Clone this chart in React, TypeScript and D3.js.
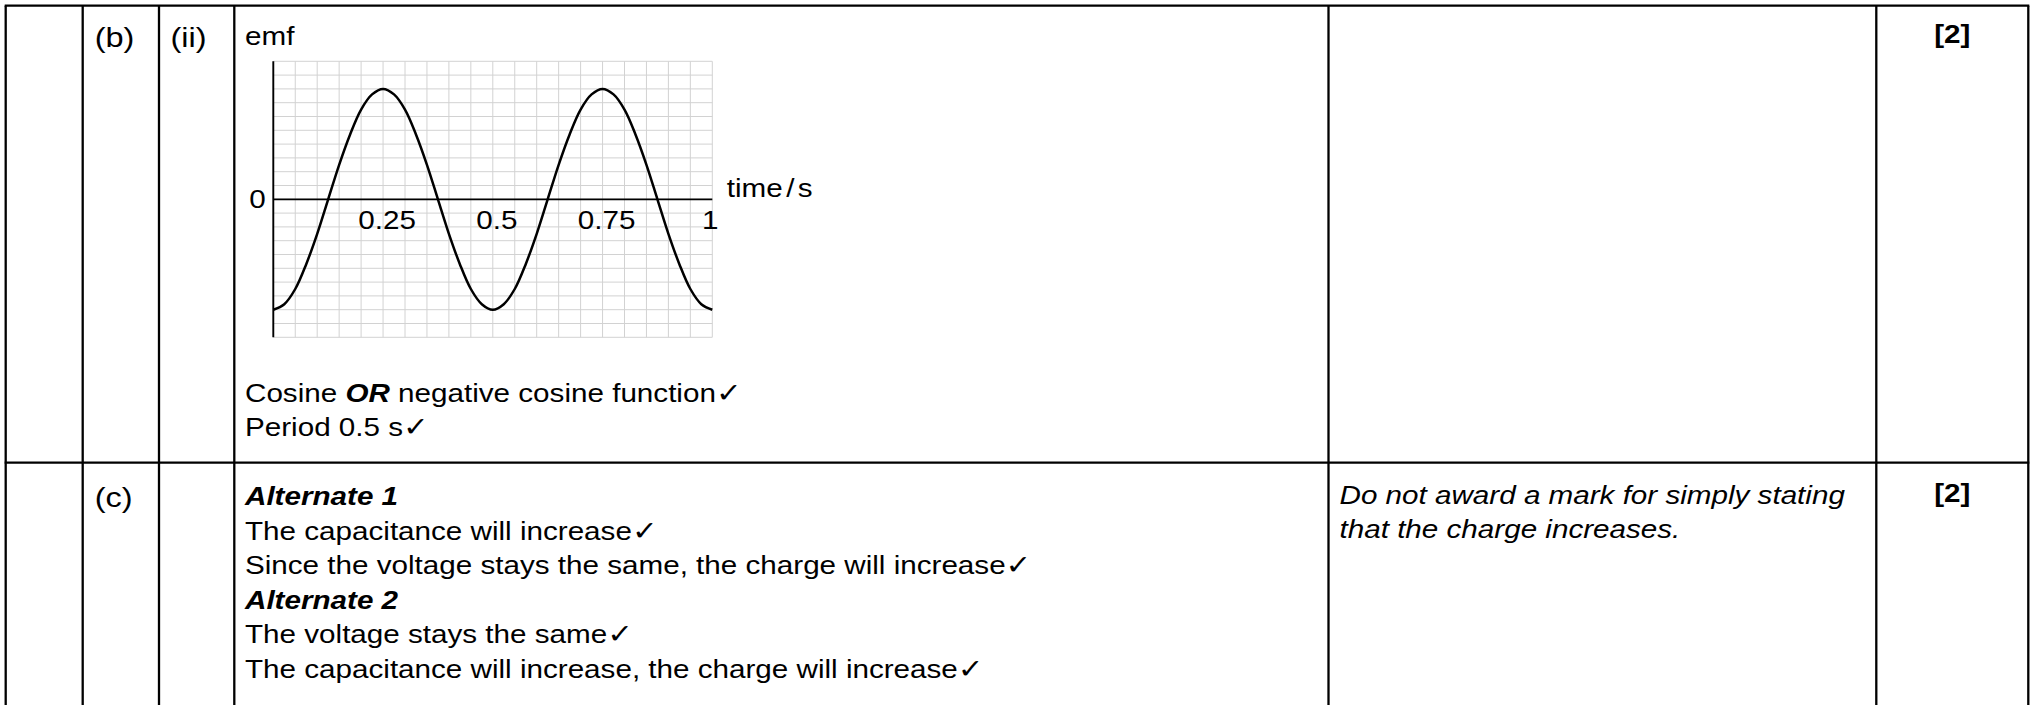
import React, { useEffect } from "react";
import * as d3 from "d3";

// ---- data ----
const TIMES = [
  0, 0.025, 0.05, 0.075, 0.1, 0.125, 0.15, 0.175, 0.2, 0.225,
  0.25, 0.275, 0.3, 0.325, 0.35, 0.375, 0.4, 0.425, 0.45, 0.475,
  0.5, 0.525, 0.55, 0.575, 0.6, 0.625, 0.65, 0.675, 0.7, 0.725,
  0.75, 0.775, 0.8, 0.825, 0.85, 0.875, 0.9, 0.925, 0.95, 0.975, 1,
];
const EMF = [
  -8, -7.6, -6.5, -4.7, -2.5, 0, 2.5, 4.7, 6.5, 7.6,
  8, 7.6, 6.5, 4.7, 2.5, 0, -2.5, -4.7, -6.5, -7.6,
  -8, -7.6, -6.5, -4.7, -2.5, 0, 2.5, 4.7, 6.5, 7.6,
  8, 7.6, 6.5, 4.7, 2.5, 0, -2.5, -4.7, -6.5, -7.6, -8,
];
const X_TICKS = [0.25, 0.5, 0.75, 1];
const X_TICK_LABELS = ["0.25", "0.5", "0.75", "1"];
const Y_LABEL = "emf";
const Y_ZERO_LABEL = "0";
const X_LABEL_PARTS = ["time", "/", "s"];

const ROW_B_LINES = [
  [{ t: "Cosine " }, { t: "OR", bi: true }, { t: " negative cosine function" }, { t: "✓", chk: true }],
  [{ t: "Period 0.5 s" }, { t: "✓", chk: true }],
];
const ROW_C_LINES = [
  [{ t: "Alternate 1", bi: true }],
  [{ t: "The capacitance will increase" }, { t: "✓", chk: true }],
  [{ t: "Since the voltage stays the same, the charge will increase" }, { t: "✓", chk: true }],
  [{ t: "Alternate 2", bi: true }],
  [{ t: "The voltage stays the same" }, { t: "✓", chk: true }],
  [{ t: "The capacitance will increase, the charge will increase" }, { t: "✓", chk: true }],
];
const ROW_C_GUIDANCE = ["Do not award a mark for simply stating", "that the charge increases."];
const MARKS = ["[2]", "[2]"];
const PART_LABELS = ["(b)", "(c)"];
const SUB_LABELS = ["(ii)", ""];

// ---- layout ----
const W = 2031;
const H = 705;
const SX = 1.14;
const FONT = "'Liberation Sans', Arial, sans-serif";
const FS = 26;
const FS_PART = 28.5;
const COLS = [5.7, 82.7, 159, 234.3, 1328.5, 1876.3, 2028.3];
const ROWS = [5.7, 462.7];
const LH = 34.5;

type Seg = { t: string; bi?: boolean; chk?: boolean };

function T(props: {
  x: number;
  y: number;
  anchor?: string;
  bold?: boolean;
  italic?: boolean;
  size?: number;
  children: React.ReactNode;
}) {
  const { x, y, anchor = "start", bold, italic, size = FS, children } = props;
  return (
    <text
      transform={`translate(${x},${y}) scale(${SX},1)`}
      textAnchor={anchor}
      fontFamily={FONT}
      fontSize={size}
      fontWeight={bold ? "bold" : "normal"}
      fontStyle={italic ? "italic" : "normal"}
      fill="#000"
    >
      {children}
    </text>
  );
}

function Line({ x, y, segs, italic }: { x: number; y: number; segs: Seg[]; italic?: boolean }) {
  return (
    <T x={x} y={y} italic={italic}>
      {segs.map((s, i) =>
        s.chk ? (
          <tspan key={i} fontFamily="'DejaVu Sans', sans-serif" fontSize={27} fontStyle="normal">
            {s.t}
          </tspan>
        ) : s.bi ? (
          <tspan key={i} fontWeight="bold" fontStyle="italic">
            {s.t}
          </tspan>
        ) : (
          <tspan key={i}>{s.t}</tspan>
        )
      )}
    </T>
  );
}

export default function App() {
  useEffect(() => {
    document.body.style.margin = "0";
  }, []);

  const x = d3.scaleLinear().domain([0, 1]).range([273.3, 712.3]);
  const y = d3.scaleLinear().domain([-10, 10]).range([337.3, 61.3]);
  const pts = TIMES.map((t, i) => [t, EMF[i]] as [number, number]);
  const path = d3
    .line<[number, number]>()
    .x((d) => x(d[0]))
    .y((d) => y(d[1]))
    .curve(d3.curveCatmullRom.alpha(0.5))(pts);

  const gx = x.ticks(20);
  const gy = y.ticks(20);
  const textX = COLS[3] + 10.7;

  return (
    <svg width={W} height={H} style={{ position: "absolute", left: 0, top: 0, background: "#fff" }}>
      <rect x={0} y={0} width={W} height={H} fill="#fff" />

      {/* table rules */}
      {ROWS.map((ry, i) => (
        <line key={"r" + i} x1={COLS[0] - 1} x2={COLS[COLS.length - 1] + 1} y1={ry} y2={ry} stroke="#000" strokeWidth={2.3} />
      ))}
      {COLS.map((cx, i) => (
        <line key={"c" + i} x1={cx} x2={cx} y1={ROWS[0]} y2={H} stroke="#000" strokeWidth={2.3} />
      ))}

      {/* part labels */}
      {PART_LABELS.map((p, i) => (
        <T key={"p" + i} x={COLS[1] + 12} y={[47, 507][i]} size={FS_PART}>
          {p}
        </T>
      ))}
      {SUB_LABELS.map((p, i) =>
        p ? (
          <T key={"s" + i} x={COLS[2] + 11.5} y={[47, 507][i]} size={FS_PART}>
            {p}
          </T>
        ) : null
      )}
      {MARKS.map((m, i) => (
        <T key={"m" + i} x={(COLS[5] + COLS[6]) / 2} y={[43, 502][i]} anchor="middle" bold>
          {m}
        </T>
      ))}

      {/* graph grid */}
      <g>
        {gx.map((v) => (
          <line key={"gx" + v} x1={x(v)} x2={x(v)} y1={y(10)} y2={y(-10)} stroke="#d2d2d2" strokeWidth={1} />
        ))}
        {gy.map((v) => (
          <line key={"gy" + v} x1={x(0)} x2={x(1)} y1={y(v)} y2={y(v)} stroke="#d2d2d2" strokeWidth={1} />
        ))}
      </g>
      {/* axes */}
      <line x1={x(0)} x2={x(0)} y1={y(10)} y2={y(-10)} stroke="#000" strokeWidth={1.9} />
      <line x1={x(0)} x2={x(1)} y1={y(0)} y2={y(0)} stroke="#000" strokeWidth={1.7} />
      {/* curve */}
      <path d={path || ""} fill="none" stroke="#000" strokeWidth={2.5} strokeLinejoin="round" />

      {/* axis labels */}
      <T x={textX} y={45}>{Y_LABEL}</T>
      <T x={x(0) - 7.6} y={y(0) + 8.8} anchor="end">
        {Y_ZERO_LABEL}
      </T>
      {X_TICKS.map((v, i) => (
        <T key={"xt" + i} x={Math.min(x(v) + 4, x(1) - 2)} y={y(0) + 30} anchor="middle">
          {X_TICK_LABELS[i]}
        </T>
      ))}
      <T x={x(1) + 14.5} y={y(0) - 2.8}>
        <tspan>{X_LABEL_PARTS[0]}</tspan>
        <tspan dx={3}>{X_LABEL_PARTS[1]}</tspan>
        <tspan dx={3}>{X_LABEL_PARTS[2]}</tspan>
      </T>

      {/* row b answer text */}
      {ROW_B_LINES.map((segs, i) => (
        <Line key={"b" + i} x={textX} y={402 + i * 33.5} segs={segs as Seg[]} />
      ))}

      {/* row c answer text */}
      {ROW_C_LINES.map((segs, i) => (
        <Line key={"c" + i} x={textX} y={505 + i * LH} segs={segs as Seg[]} />
      ))}

      {/* row c guidance */}
      {ROW_C_GUIDANCE.map((s, i) => (
        <T key={"g" + i} x={COLS[4] + 11} y={504 + i * 33.7} italic>
          {s}
        </T>
      ))}
    </svg>
  );
}
